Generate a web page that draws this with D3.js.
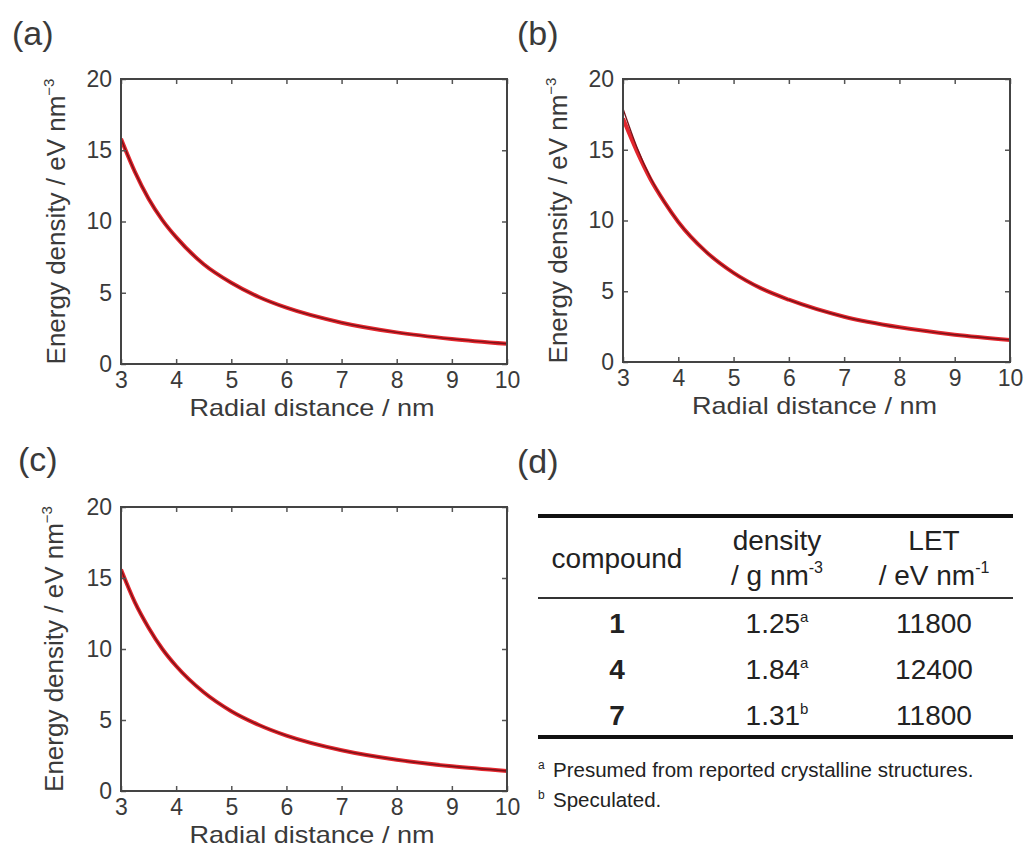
<!DOCTYPE html>
<html>
<head>
<meta charset="utf-8">
<script src="https://cdn.jsdelivr.net/npm/d3@7/dist/d3.min.js"></script>
<style>
  html, body { margin: 0; padding: 0; background: #fff; }
  svg { display: block; }
  text { font-family: "Liberation Sans", Arial, Helvetica, sans-serif; }
</style>
</head>
<body>
<svg id="chart" width="1025" height="849"></svg>
<script>
// ---------- data ----------
const radialDistance = [3, 3.25, 3.5, 3.75, 4, 4.5, 5, 5.5, 6, 7, 8, 9, 10];

const panelA_red  = [15.8, 13.5, 11.6, 10.1, 8.9, 7.0, 5.7, 4.7, 3.95, 2.9, 2.22, 1.76, 1.42];
const panelA_dark = [15.8, 13.5, 11.6, 10.1, 8.9, 7.0, 5.7, 4.7, 3.95, 2.9, 2.22, 1.76, 1.42];

const panelB_red  = [17.2, 14.9, 12.9, 11.3, 9.9, 7.8, 6.3, 5.2, 4.4, 3.2, 2.45, 1.93, 1.56];
const panelB_dark = [17.9, 15.2, 13.0, 11.3, 9.9, 7.8, 6.3, 5.2, 4.4, 3.2, 2.45, 1.93, 1.56];

const panelC_red  = [15.6, 13.3, 11.5, 10.0, 8.8, 6.95, 5.62, 4.65, 3.9, 2.87, 2.2, 1.74, 1.41];
const panelC_dark = [15.6, 13.3, 11.5, 10.0, 8.8, 6.95, 5.62, 4.65, 3.9, 2.87, 2.2, 1.74, 1.41];

const xTicks = [3, 4, 5, 6, 7, 8, 9, 10];
const yTicks = [0, 5, 10, 15, 20];
const xDomain = [3, 10];
const yDomain = [0, 20];

const panelLabels = ["(a)", "(b)", "(c)", "(d)"];
const xAxisTitle = "Radial distance / nm";
const yAxisTitle = "Energy density / eV nm";
const yAxisTitleSup = "\u22123";

const tableCompounds = ["1", "4", "7"];
const tableDensity = ["1.25", "1.84", "1.31"];
const tableDensityNote = ["a", "a", "b"];
const tableLET = ["11800", "12400", "11800"];
const footnotes = [
  ["a", "Presumed from reported crystalline structures."],
  ["b", "Speculated."]
];

// ---------- drawing ----------
const svg = d3.select("#chart");
const textColor = "#3a3a3a";

const panels = [
  {label: panelLabels[0], lx: 12, ly: 45, box: {l: 121, r: 507, t: 79, b: 364}, titleX: 65, red: panelA_red, dark: panelA_dark},
  {label: panelLabels[1], lx: 517, ly: 45, box: {l: 623, r: 1010, t: 79, b: 362}, titleX: 567, red: panelB_red, dark: panelB_dark},
  {label: panelLabels[2], lx: 18, ly: 471, box: {l: 121, r: 507, t: 507, b: 791}, titleX: 63, red: panelC_red, dark: panelC_dark}
];

panels.forEach((p, i) => {
  const g = svg.append("g");
  const x = d3.scaleLinear().domain(xDomain).range([p.box.l, p.box.r]);
  const y = d3.scaleLinear().domain(yDomain).range([p.box.b, p.box.t]);

  // panel label
  svg.append("text").attr("x", p.lx).attr("y", p.ly)
    .attr("font-size", 34).attr("fill", textColor).text(p.label);

  // curves
  const clipId = "clip" + i;
  svg.append("clipPath").attr("id", clipId).append("rect")
    .attr("x", p.box.l).attr("y", p.box.t)
    .attr("width", p.box.r - p.box.l).attr("height", p.box.b - p.box.t);

  const line = d3.line()
    .x((d, k) => x(radialDistance[k]))
    .y(d => y(d))
    .curve(d3.curveMonotoneX);

  g.append("path").datum(p.red).attr("d", line)
    .attr("fill", "none").attr("stroke", "#e3262d").attr("stroke-width", 4)
    .attr("clip-path", `url(#${clipId})`);
  g.append("path").datum(p.dark).attr("d", line)
    .attr("fill", "none").attr("stroke", "#7a1218").attr("stroke-width", 1.4)
    .attr("clip-path", `url(#${clipId})`);

  // axes
  const fmt = d3.format("d");
  const bottom = g.append("g").attr("transform", `translate(0,${p.box.b})`)
    .call(d3.axisBottom(x).tickValues(xTicks).tickFormat(fmt).tickSizeInner(-5).tickSizeOuter(0).tickPadding(8));
  const left = g.append("g").attr("transform", `translate(${p.box.l},0)`)
    .call(d3.axisLeft(y).tickValues(yTicks).tickFormat(fmt).tickSizeInner(-5).tickSizeOuter(0).tickPadding(9));
  const top = g.append("g").attr("transform", `translate(0,${p.box.t})`)
    .call(d3.axisTop(x).tickValues(xTicks).tickFormat("").tickSizeInner(-5).tickSizeOuter(0));
  const right = g.append("g").attr("transform", `translate(${p.box.r},0)`)
    .call(d3.axisRight(y).tickValues(yTicks).tickFormat("").tickSizeInner(-5).tickSizeOuter(0));

  [bottom, left, top, right].forEach(a => {
    a.select(".domain").remove();
    a.selectAll(".tick line").attr("stroke", "#555").attr("stroke-width", 1.5);
    a.selectAll(".tick text").attr("font-size", 23).attr("fill", textColor)
      .attr("font-family", "'Liberation Sans', Arial, sans-serif");
  });

  // frame
  g.append("rect").attr("x", p.box.l).attr("y", p.box.t)
    .attr("width", p.box.r - p.box.l).attr("height", p.box.b - p.box.t)
    .attr("fill", "none").attr("stroke", "#444").attr("stroke-width", 2);

  // axis titles
  g.append("text")
    .attr("x", (p.box.l + p.box.r) / 2 - 2)
    .attr("y", p.box.b + 52)
    .attr("text-anchor", "middle").attr("font-size", 24).attr("fill", textColor)
    .attr("textLength", 245).attr("lengthAdjust", "spacingAndGlyphs")
    .text(xAxisTitle);

  const yt = g.append("text")
    .attr("transform", `translate(${p.titleX},${(p.box.t + p.box.b) / 2}) rotate(-90)`)
    .attr("text-anchor", "middle").attr("font-size", 26).attr("fill", textColor);
  yt.append("tspan").text(yAxisTitle);
  yt.append("tspan").attr("font-size", 15).attr("dy", -11).text(yAxisTitleSup);
});

// ---------- panel (d): table ----------
svg.append("text").attr("x", 517).attr("y", 473)
  .attr("font-size", 34).attr("fill", textColor).text(panelLabels[3]);

const tbl = svg.append("g");
const colX = [617, 777, 934];
const tableLeft = 538, tableRight = 1013;
const tColor = "#222";

tbl.append("line").attr("x1", tableLeft).attr("x2", tableRight).attr("y1", 516).attr("y2", 516)
  .attr("stroke", "#111").attr("stroke-width", 4);
tbl.append("line").attr("x1", tableLeft).attr("x2", tableRight).attr("y1", 598).attr("y2", 598)
  .attr("stroke", "#333").attr("stroke-width", 2);
tbl.append("line").attr("x1", tableLeft).attr("x2", tableRight).attr("y1", 737).attr("y2", 737)
  .attr("stroke", "#111").attr("stroke-width", 4);

// header
tbl.append("text").attr("x", colX[0]).attr("y", 568).attr("text-anchor", "middle")
  .attr("font-size", 28).attr("fill", tColor).text("compound");
tbl.append("text").attr("x", colX[1]).attr("y", 550).attr("text-anchor", "middle")
  .attr("font-size", 28).attr("fill", tColor).text("density");
const h2 = tbl.append("text").attr("x", colX[1]).attr("y", 585).attr("text-anchor", "middle")
  .attr("font-size", 28).attr("fill", tColor);
h2.append("tspan").text("/ g nm");
h2.append("tspan").attr("font-size", 16).attr("dy", -12).text("-3");
tbl.append("text").attr("x", colX[2]).attr("y", 550).attr("text-anchor", "middle")
  .attr("font-size", 28).attr("fill", tColor).text("LET");
const h3 = tbl.append("text").attr("x", colX[2]).attr("y", 585).attr("text-anchor", "middle")
  .attr("font-size", 28).attr("fill", tColor);
h3.append("tspan").text("/ eV nm");
h3.append("tspan").attr("font-size", 16).attr("dy", -12).text("-1");

// rows
const rowY = [633, 679, 725];
tableCompounds.forEach((c, i) => {
  tbl.append("text").attr("x", colX[0]).attr("y", rowY[i]).attr("text-anchor", "middle")
    .attr("font-size", 28).attr("font-weight", "bold").attr("fill", tColor).text(c);
  const d = tbl.append("text").attr("x", colX[1]).attr("y", rowY[i]).attr("text-anchor", "middle")
    .attr("font-size", 28).attr("fill", tColor);
  d.append("tspan").text(tableDensity[i]);
  d.append("tspan").attr("font-size", 15).attr("dy", -11).text(tableDensityNote[i]);
  tbl.append("text").attr("x", colX[2]).attr("y", rowY[i]).attr("text-anchor", "middle")
    .attr("font-size", 28).attr("fill", tColor).text(tableLET[i]);
});

// footnotes
const noteY = [777, 807];
footnotes.forEach((f, i) => {
  tbl.append("text").attr("x", 538).attr("y", noteY[i] - 8)
    .attr("font-size", 12).attr("fill", tColor).text(f[0]);
  tbl.append("text").attr("x", 553).attr("y", noteY[i])
    .attr("font-size", 20.5).attr("fill", tColor).text(f[1]);
});
</script>
</body>
</html>
